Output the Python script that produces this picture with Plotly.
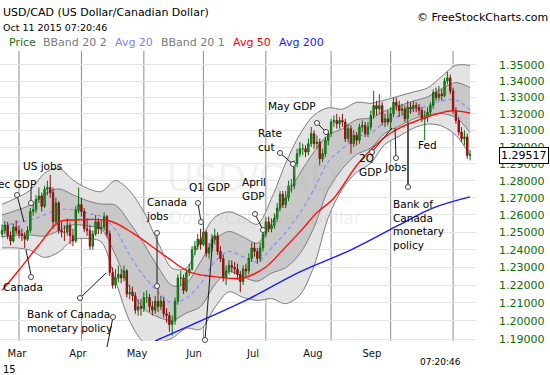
import numpy as np
import pandas as pd
import plotly.graph_objects as go

# ---------------- data ----------------
dates = pd.bdate_range("2015-02-20", "2015-10-09")  # trading days shown

open_first = 1.2490
close = [
    1.2510, 1.2540, 1.2480, 1.2450, 1.2530, 1.2510, 1.2490, 1.2480, 1.2460, 1.2510,
    1.2620, 1.2630, 1.2690, 1.2710, 1.2650, 1.2750, 1.2760, 1.2730, 1.2560, 1.2670,
    1.2510, 1.2500, 1.2500, 1.2540, 1.2480, 1.2450, 1.2630, 1.2660, 1.2620, 1.2520,
    1.2510, 1.2420, 1.2490, 1.2560, 1.2520, 1.2530, 1.2590, 1.2490, 1.2270, 1.2200,
    1.2240, 1.2260, 1.2240, 1.2280, 1.2150, 1.2160, 1.2140, 1.2060, 1.2080, 1.2070,
    1.2130, 1.2130, 1.2080, 1.2060, 1.2110, 1.2080, 1.2110, 1.2040, 1.2030, 1.1980,
    1.2000, 1.2110, 1.2240, 1.2240, 1.2170, 1.2270, 1.2290, 1.2400, 1.2420, 1.2460,
    1.2430, 1.2500, 1.2380, 1.2410, 1.2460, 1.2480, 1.2390, 1.2350, 1.2240, 1.2280,
    1.2310, 1.2300, 1.2290, 1.2260, 1.2220, 1.2290, 1.2280, 1.2350, 1.2410, 1.2390,
    1.2350, 1.2410, 1.2490, 1.2560, 1.2520, 1.2540, 1.2580, 1.2640, 1.2720, 1.2660,
    1.2700, 1.2770, 1.2770, 1.2900, 1.2960, 1.2990, 1.2990, 1.2970, 1.3020, 1.3080,
    1.3020, 1.3030, 1.2930, 1.2960, 1.3040, 1.3080, 1.3150, 1.3160, 1.3140, 1.3160,
    1.3150, 1.3050, 1.3110, 1.3020, 1.3070, 1.3040, 1.3120, 1.3130, 1.3080, 1.3120,
    1.3190, 1.3250, 1.3230, 1.3250, 1.3150, 1.3170, 1.3150, 1.3200, 1.3270, 1.3250,
    1.3220, 1.3230, 1.3170, 1.3240, 1.3230, 1.3250, 1.3240, 1.3220, 1.3170, 1.3180,
    1.3210, 1.3250, 1.3330, 1.3300, 1.3320, 1.3310, 1.3400, 1.3420, 1.3340, 1.3220,
    1.3160, 1.3090, 1.3050, 1.3060, 1.2950, 1.29517,
]
high = [
    1.2545, 1.2565, 1.2560, 1.2505, 1.2550, 1.2570, 1.2540, 1.2520, 1.2500, 1.2535,
    1.2640, 1.2665, 1.2715, 1.2760, 1.2730, 1.2770, 1.2800, 1.2835, 1.2760, 1.2700,
    1.2680, 1.2560, 1.2540, 1.2580, 1.2555, 1.2520, 1.2650, 1.2760, 1.2700, 1.2640,
    1.2580, 1.2540, 1.2510, 1.2600, 1.2580, 1.2570, 1.2615, 1.2600, 1.2510, 1.2300,
    1.2290, 1.2310, 1.2290, 1.2310, 1.2290, 1.2200, 1.2190, 1.2160, 1.2120, 1.2120,
    1.2160, 1.2170, 1.2150, 1.2110, 1.2140, 1.2190, 1.2140, 1.2130, 1.2070, 1.2050,
    1.2030, 1.2130, 1.2260, 1.2280, 1.2260, 1.2290, 1.2320, 1.2420, 1.2450, 1.2490,
    1.2520, 1.2560, 1.2510, 1.2440, 1.2490, 1.2520, 1.2500, 1.2420, 1.2370, 1.2310,
    1.2340, 1.2340, 1.2330, 1.2320, 1.2280, 1.2310, 1.2320, 1.2380, 1.2440, 1.2440,
    1.2410, 1.2440, 1.2510, 1.2590, 1.2590, 1.2580, 1.2610, 1.2670, 1.2740, 1.2740,
    1.2740, 1.2800, 1.2810, 1.2920, 1.2990, 1.3030, 1.3020, 1.3010, 1.3050, 1.3120,
    1.3100, 1.3070, 1.3050, 1.2990, 1.3060, 1.3100, 1.3170, 1.3190, 1.3200, 1.3180,
    1.3200, 1.3170, 1.3140, 1.3130, 1.3100, 1.3090, 1.3140, 1.3160, 1.3150, 1.3150,
    1.3220, 1.3340, 1.3280, 1.3320, 1.3270, 1.3200, 1.3220, 1.3240, 1.3300, 1.3300,
    1.3280, 1.3260, 1.3250, 1.3280, 1.3270, 1.3280, 1.3270, 1.3260, 1.3240, 1.3220,
    1.3240, 1.3270, 1.3350, 1.3360, 1.3370, 1.3350, 1.3420, 1.3457, 1.3440, 1.3360,
    1.3240, 1.3180, 1.3120, 1.3100, 1.3080, 1.2980,
]
low = [
    1.2470, 1.2490, 1.2460, 1.2425, 1.2440, 1.2490, 1.2465, 1.2450, 1.2410, 1.2450,
    1.2495, 1.2595, 1.2610, 1.2670, 1.2620, 1.2640, 1.2715, 1.2700, 1.2520, 1.2540,
    1.2490, 1.2470, 1.2450, 1.2480, 1.2430, 1.2420, 1.2440, 1.2610, 1.2590, 1.2500,
    1.2480, 1.2400, 1.2400, 1.2480, 1.2490, 1.2490, 1.2510, 1.2470, 1.2250, 1.2180,
    1.2180, 1.2215, 1.2210, 1.2220, 1.2130, 1.2120, 1.2110, 1.2040, 1.2030, 1.2030,
    1.2050, 1.2100, 1.2050, 1.2030, 1.2040, 1.2050, 1.2060, 1.2020, 1.1990, 1.1940,
    1.1920, 1.1980, 1.2090, 1.2200, 1.2150, 1.2160, 1.2250, 1.2280, 1.2370, 1.2400,
    1.2400, 1.2420, 1.2360, 1.2350, 1.2390, 1.2430, 1.2370, 1.2330, 1.2220, 1.2200,
    1.2260, 1.2270, 1.2260, 1.2230, 1.2160, 1.2200, 1.2250, 1.2260, 1.2330, 1.2360,
    1.2320, 1.2330, 1.2390, 1.2470, 1.2500, 1.2500, 1.2520, 1.2560, 1.2620, 1.2640,
    1.2640, 1.2680, 1.2730, 1.2750, 1.2880, 1.2940, 1.2950, 1.2940, 1.2950, 1.3000,
    1.2990, 1.2990, 1.2890, 1.2910, 1.2940, 1.3010, 1.3060, 1.3120, 1.3110, 1.3110,
    1.3120, 1.3030, 1.3030, 1.2960, 1.3000, 1.3010, 1.3020, 1.3090, 1.3060, 1.3060,
    1.3100, 1.3170, 1.3190, 1.3200, 1.3130, 1.3120, 1.3130, 1.3100, 1.3180, 1.3220,
    1.3180, 1.3190, 1.3150, 1.3150, 1.3200, 1.3210, 1.3210, 1.3190, 1.3150, 1.3040,
    1.3150, 1.3190, 1.3230, 1.3280, 1.3280, 1.3280, 1.3300, 1.3380, 1.3320, 1.3200,
    1.3140, 1.3070, 1.3030, 1.3010, 1.2930, 1.2920,
]

# Bollinger band (20 day) read at weekly steps: middle line and one standard deviation
bb_idx = list(range(0, 166, 5))
bb_mid = [1.2536, 1.2554, 1.2571, 1.2600, 1.2630, 1.2630, 1.2610, 1.2590, 1.2513, 1.2370,
          1.2251, 1.2162, 1.2100, 1.2128, 1.2206, 1.2330, 1.2390, 1.2359, 1.2330, 1.2410,
          1.2500, 1.2610, 1.2750, 1.2911, 1.2990, 1.3060, 1.3084, 1.3150, 1.3187, 1.3223,
          1.3248, 1.3278, 1.3284, 1.3223]
bb_sd = [0.0063, 0.0072, 0.0087, 0.0122, 0.0122, 0.0087, 0.0073, 0.0073, 0.0144, 0.0185,
         0.0183, 0.0140, 0.0097, 0.0084, 0.0126, 0.0128, 0.0114, 0.0114, 0.0108, 0.0143,
         0.0202, 0.0233, 0.0221, 0.0163, 0.0119, 0.0105, 0.0090, 0.0067, 0.0061, 0.0055,
         0.0055, 0.0076, 0.0107, 0.0137]

ma50_idx = [0, 6, 13, 20, 26, 38, 46, 58, 66, 73, 85, 93, 99, 105, 111, 117, 126, 137, 147, 158, 165]
ma50 = [1.2170, 1.2285, 1.2427, 1.2559, 1.2571, 1.2565, 1.2496, 1.2359, 1.2274, 1.2251,
        1.2240, 1.2302, 1.2399, 1.2502, 1.2612, 1.2699, 1.2911, 1.3084, 1.3163, 1.3217, 1.3205]

ma200_idx = [54, 70, 87, 105, 123, 140, 152, 165]
ma200 = [1.1890, 1.2000, 1.2123, 1.2274, 1.2399, 1.2542, 1.2641, 1.2705]

month_labels = ["Mar", "Apr", "May", "Jun", "Jul", "Aug", "Sep"]
month_label_pos = [5.3, 26.8, 47.6, 67.7, 88.5, 109.6, 130.4]
ytick_vals = [1.19, 1.20, 1.21, 1.22, 1.23, 1.24, 1.25, 1.26, 1.27, 1.28,
              1.29, 1.30, 1.31, 1.32, 1.33, 1.34, 1.35]

# ---------------- geometry helpers (pixel -> paper) ----------------
W, H = 550, 375
PL, PR, PT, PB = 0, 476, 51, 341
XR = [-0.705, 167.08]
YR = [np.log10(1.1890), np.log10(1.3587)]


def pxx(x):
    return (x - PL) / (PR - PL)


def pxy(y):
    return (PB - y) / (PB - PT)


FONT = "DejaVu Sans"

xi = np.arange(len(dates))
opens = [open_first] + close[:-1]
mid = np.array(bb_mid)
sd = np.array(bb_sd)

fig = go.Figure()
band_line = dict(color="#7d7d7d", width=1, shape="spline", smoothing=0.9)
fig.add_trace(go.Scatter(x=bb_idx, y=mid + 2 * sd, mode="lines", line=band_line, hoverinfo="skip"))
fig.add_trace(go.Scatter(x=bb_idx, y=mid - 2 * sd, mode="lines", line=band_line,
                         fill="tonexty", fillcolor="#e3e3e3", hoverinfo="skip"))
fig.add_trace(go.Scatter(x=bb_idx, y=mid + sd, mode="lines", line=band_line, hoverinfo="skip"))
fig.add_trace(go.Scatter(x=bb_idx, y=mid - sd, mode="lines", line=band_line,
                         fill="tonexty", fillcolor="#c8c8c8", hoverinfo="skip"))
fig.add_trace(go.Scatter(x=bb_idx, y=mid, mode="lines",
                         line=dict(color="#8c8cff", width=1.2, dash="4px,3px", shape="spline"),
                         hoverinfo="skip"))
# price and moving averages on an overlay so they sit above the band fills
fig.add_trace(go.Candlestick(
    x=xi, open=opens, high=high, low=low, close=close,
    increasing=dict(line=dict(color="#0b6b0b", width=1), fillcolor="#2e9a2e"),
    decreasing=dict(line=dict(color="#8b1212", width=1), fillcolor="#8b1a1a"),
    whiskerwidth=0, xaxis="x2", yaxis="y2",
))
fig.add_trace(go.Scatter(x=ma50_idx, y=ma50, mode="lines", xaxis="x2", yaxis="y2",
                         line=dict(color="#ff1010", width=1.4, shape="spline"), hoverinfo="skip"))
fig.add_trace(go.Scatter(x=ma200_idx, y=ma200, mode="lines", xaxis="x2", yaxis="y2",
                         line=dict(color="#1a1aff", width=1.4, shape="spline"), hoverinfo="skip"))

# vertical grid lines at the first trading day of each month
month_start = [i for i in range(1, len(dates)) if dates[i].month != dates[i - 1].month]
shapes = []
for m in month_start:
    shapes.append(dict(type="line", xref="x", yref="paper", x0=m, x1=m, y0=0, y1=1,
                       line=dict(color="#8c8c8c", width=1), layer="below"))

annotations = []


def txt(s, x, y, color="#000", size=10.5, xanchor="left", align="left"):
    annotations.append(dict(text=s, x=pxx(x), y=pxy(y), xref="paper", yref="paper",
                            showarrow=False, xanchor=xanchor, yanchor="middle", align=align,
                            font=dict(family=FONT, size=size, color=color)))


# header
txt("USD/CAD (US Dollar/Canadian Dollar)", 1, 12, size=11)
txt("Oct 11 2015 07:20:46", 1, 27, size=9.5)
txt("© FreeStockCharts.com", 550, 17, size=11, xanchor="right")
for s, x, c in [("Price", 7, "#1a6e1a"), ("BBand 20 2", 41, "#7a7a7a"), ("Avg 20", 113, "#8080ff"),
                ("BBand 20 1", 159, "#7a7a7a"), ("Avg 50", 231, "#ff0000"), ("Avg 200", 277, "#1a1aff")]:
    txt(s, x, 43, color=c, size=11)

# watermark
txt("USD/CAD", 252, 178, color="rgba(170,170,170,0.18)", size=37, xanchor="center")
txt("US Dollar/Canadian Dollar", 250, 218, color="rgba(170,170,170,0.18)", size=17, xanchor="center")

# event labels
txt("Dec GDP", 38, 184, xanchor="right")
txt("US jobs", 21, 166)
txt("Canada", 1, 287)
txt("Bank of Canada<br>monetary policy", 25, 321)
txt("Canada<br>jobs", 144, 209.5)
txt("Q1 GDP", 187, 187)
txt("April<br>GDP", 240, 189)
txt("Rate<br>cut", 256, 140)
txt("May GDP", 266, 106)
txt("2Q<br>GDP", 357, 165)
txt("Jobs", 382, 167)
txt("Bank of<br>Canada<br>monetary<br>policy", 391, 224)
txt("Fed", 416, 145)

# bottom labels
txt("15", 1, 369, size=10)
txt("07:20:46", 440, 362, size=9, xanchor="center")

# last price box
annotations.append(dict(text=f"{close[-1]:.5f}", x=pxx(499), y=np.log10(close[-1]), xref="paper", yref="y",
                        showarrow=False, xanchor="left", yanchor="middle",
                        font=dict(family=FONT, size=11, color="#000"),
                        bgcolor="white", bordercolor="#000", borderwidth=1, borderpad=1))

# pointer lines
segs = [(17, 195, 24, 222), (31, 187, 31, 201), (31, 275, 26, 250), (80, 298, 106, 273),
        (113, 317, 107, 347), (157, 233, 157, 286), (198, 203, 201, 222), (213, 236, 205, 340),
        (255, 214, 263, 230), (280, 153, 293, 164), (317, 123, 326, 132), (372, 152, 392, 128),
        (396, 158, 395, 128)]
for x0, y0, x1, y1 in segs:
    shapes.append(dict(type="line", xref="paper", yref="paper", x0=pxx(x0), y0=pxy(y0),
                       x1=pxx(x1), y1=pxy(y1), line=dict(color="#1a1a1a", width=1)))
shapes.append(dict(type="line", xref="paper", yref="paper", x0=pxx(408), y0=pxy(187),
                   x1=pxx(408), y1=pxy(122), line=dict(color="#555", width=2)))
circles = [(17, 195), (31, 203), (31, 277), (80, 298), (113, 317), (157, 233), (157, 286),
           (198, 203), (201, 222), (205, 340), (255, 214), (263, 230), (280, 153), (293, 164),
           (317, 123), (326, 132), (372, 152), (396, 158), (408, 187)]
for cx, cy in circles:
    shapes.append(dict(type="circle", xref="paper", yref="paper", x0=pxx(cx - 2.5), x1=pxx(cx + 2.5),
                       y0=pxy(cy + 2.5), y1=pxy(cy - 2.5), line=dict(color="#444", width=1),
                       fillcolor="white"))

fig.update_layout(
    width=W, height=H,
    margin=dict(l=PL, r=W - PR, t=PT, b=H - PB),
    paper_bgcolor="white", plot_bgcolor="white",
    showlegend=False,
    font=dict(family=FONT, size=11, color="#000"),
    xaxis=dict(range=XR, tickvals=month_label_pos, ticktext=month_labels,
               showgrid=False, zeroline=False, showline=False, ticks="",
               rangeslider=dict(visible=False), tickfont=dict(size=10, color="#111"),
               ticklabelstandoff=5),
    yaxis=dict(type="log", side="right", range=YR,
               tickvals=ytick_vals, ticktext=[f"{v:.5f}" for v in ytick_vals],
               tickfont=dict(size=11, color="#0a6e0a"), showgrid=True, gridcolor="#e4e4e4",
               gridwidth=1, zeroline=False, showline=False, ticks="", ticklabelstandoff=22),
    xaxis2=dict(range=XR, overlaying="x", visible=False, rangeslider=dict(visible=False)),
    yaxis2=dict(type="log", range=YR, overlaying="y", visible=False, side="right"),
    shapes=shapes,
    annotations=annotations,
)

fig.write_html("out.html", config={"displayModeBar": False},
               post_script="document.body.style.margin='0px';")
